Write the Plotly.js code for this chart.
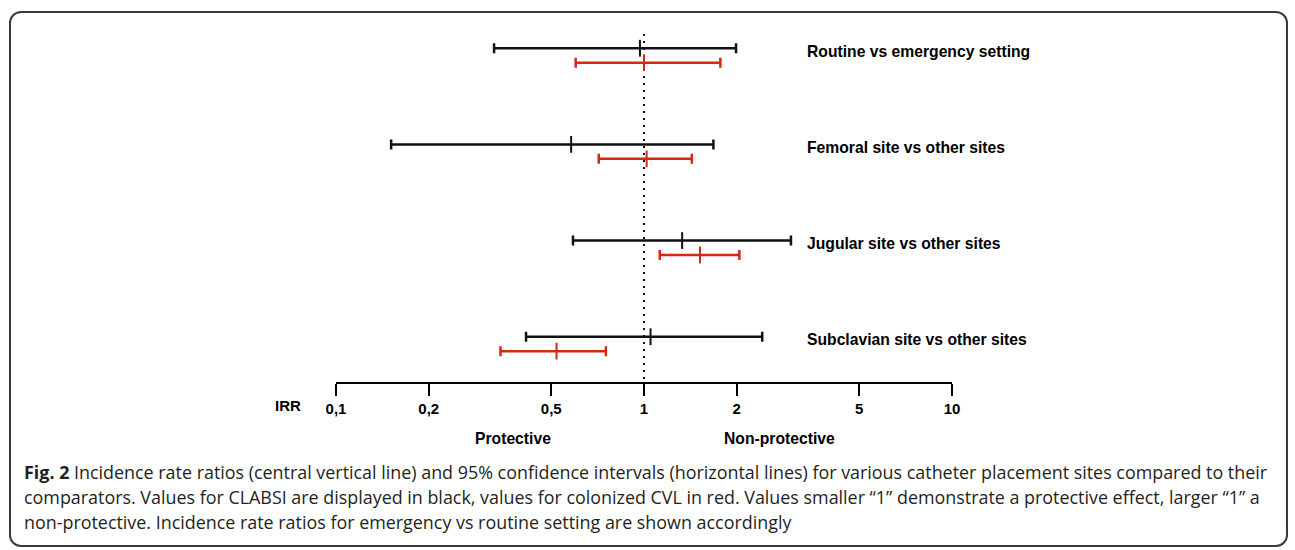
<!DOCTYPE html>
<html>
<head>
<meta charset="utf-8">
<script src="https://cdn.plot.ly/plotly-3.0.1.min.js"></script>
<style>
  html, body { margin: 0; padding: 0; background: #fff; }
  #wrap { position: relative; width: 1295px; height: 550px; }
  #chart { position: absolute; left: 0; top: 0; width: 1295px; height: 550px; }
  #frame { position: absolute; left: 9px; top: 11px; width: 1275px; height: 532px;
           border: 2px solid #3a3a3a; border-radius: 12px; pointer-events: none; }
</style>
</head>
<body>
<div id="wrap"><div id="chart"></div><div id="frame"></div></div>
<script>
// ---- data ----
const categories = ["Routine vs emergency setting", "Femoral site vs other sites",
                    "Jugular site vs other sites", "Subclavian site vs other sites"];
const clabsiIRR  = [0.97, 0.58, 1.33, 1.05];
const clabsiLow  = [0.326, 0.151, 0.588, 0.414];
const clabsiHigh = [1.99, 1.68, 3.00, 2.42];
const cvlIRR     = [1.00, 1.02, 1.52, 0.52];
const cvlLow     = [0.60, 0.713, 1.125, 0.342];
const cvlHigh    = [1.77, 1.43, 2.04, 0.752];
const tickVals   = [0.1, 0.2, 0.5, 1, 2, 5, 10];
const tickText   = ["0,1", "0,2", "0,5", "1", "2", "5", "10"];
const captionLines = [
  "<b>Fig. 2</b> Incidence rate ratios (central vertical line) and 95% confidence intervals (horizontal lines) for various catheter placement sites compared to their",
  "comparators. Values for CLABSI are displayed in black, values for colonized CVL in red. Values smaller \u201c1\u201d demonstrate a protective effect, larger \u201c1\u201d a",
  "non-protective. Incidence rate ratios for emergency vs routine setting are shown accordingly"
];

// ---- layout geometry ----
const W = 1295, H = 550;
const L = 335.5, R = 952, T = 32, B = 382.5;
const rowGap = 0.075;             // half offset between black and red lines (row units)
const yTop = -0.244, yBot = 3.396; // row-unit range
const BLACK = "#111111", RED = "#d22a10";
const FONT = "Liberation Sans, Arial, sans-serif";
const LBL = 15.7;

const rows = categories.map((_, i) => i);
function ciTrace(est, lo, hi, off, color) {
  return {
    type: "scatter", mode: "markers",
    x: est, y: rows.map(r => r + off),
    marker: { symbol: "line-ns", size: 12, line: { width: 2, color: color }, color: color },
    error_x: {
      type: "data", symmetric: false,
      array: est.map((v, i) => hi[i] - v),
      arrayminus: est.map((v, i) => v - lo[i]),
      color: color, thickness: 2.5, width: 5
    },
    hoverinfo: "skip", showlegend: false, cliponaxis: false
  };
}

const refLine = {
  type: "scatter", mode: "lines", x: [1, 1], y: [yTop + 0.02, yBot],
  line: { color: BLACK, width: 2, dash: "2px,5px" }, hoverinfo: "skip", showlegend: false
};

const traces = [refLine,
  ciTrace(clabsiIRR, clabsiLow, clabsiHigh, -rowGap, BLACK),
  ciTrace(cvlIRR, cvlLow, cvlHigh, rowGap, RED)];

const px = x => (x - L) / (R - L);
const py = y => (B - y) / (B - T);

const annotations = [];
categories.forEach((c, i) => {
  annotations.push({ xref: "paper", yref: "y", x: px(805), y: i - rowGap + 0.03,
    xanchor: "left", yanchor: "middle", text: "<b>" + c + "</b>", showarrow: false,
    font: { family: FONT, size: LBL, color: "#000" } });
});
annotations.push({ xref: "paper", yref: "paper", x: px(287), y: py(406), xanchor: "center",
  yanchor: "middle", text: "<b>IRR</b>", showarrow: false, font: { family: FONT, size: 15, color: "#000" } });
annotations.push({ xref: "paper", yref: "paper", x: px(513), y: py(439), xanchor: "center",
  yanchor: "middle", text: "<b>Protective</b>", showarrow: false, font: { family: FONT, size: LBL, color: "#000" } });
annotations.push({ xref: "paper", yref: "paper", x: px(779), y: py(439), xanchor: "center",
  yanchor: "middle", text: "<b>Non-protective</b>", showarrow: false, font: { family: FONT, size: LBL, color: "#000" } });
const capY = [473, 498, 523];
captionLines.forEach((t, i) => {
  annotations.push({ xref: "paper", yref: "paper", x: px(21), y: py(capY[i]), xanchor: "left",
    yanchor: "middle", text: t, showarrow: false, align: "left",
    font: { family: "Open Sans, sans-serif", size: 17.9, color: "#231f20" } });
});

const layout = {
  width: W, height: H,
  margin: { l: L, r: W - R, t: T, b: H - B, pad: 0 },
  paper_bgcolor: "rgba(0,0,0,0)", plot_bgcolor: "rgba(0,0,0,0)",
  showlegend: false,
  xaxis: {
    type: "log", range: [-1, 1], tickvals: tickVals, ticktext: tickText,
    ticks: "outside", ticklen: 12, tickwidth: 2, tickcolor: "#000",
    showline: true, linecolor: "#000", linewidth: 2, mirror: false,
    showgrid: false, zeroline: false, fixedrange: true,
    tickfont: { family: FONT, size: 15, color: "#000", weight: "bold" }
  },
  yaxis: {
    range: [yBot, yTop], showline: false, showgrid: false, zeroline: false,
    showticklabels: false, ticks: "", fixedrange: true
  },
  annotations: annotations
};

Plotly.newPlot("chart", traces, layout, { staticPlot: true, displayModeBar: false });
</script>
</body>
</html>
